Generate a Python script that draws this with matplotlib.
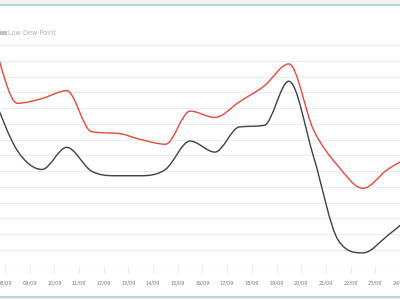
import numpy as np
import matplotlib
matplotlib.use("Agg")
import matplotlib.pyplot as plt
from matplotlib.path import Path
from matplotlib.patches import PathPatch, Rectangle
from matplotlib.lines import Line2D
import matplotlib.transforms as mtransforms

# ---- data ----
dates = ['07/09', '08/09', '09/09', '10/09', '11/09', '12/09', '13/09', '14/09', '15/09',
         '16/09', '17/09', '18/09', '19/09', '20/09', '21/09', '22/09', '23/09', '24/09']
high_dew = [20.3, 16.3, 16.6, 17.1, 14.5, 14.4, 14.0, 13.7, 15.8,
            15.4, 16.4, 17.4, 18.8, 14.6, 12.3, 10.9, 12.1, 13.0]
low_dew = [16.8, 13.3, 12.1, 13.5, 12.0, 11.7, 11.7, 12.1, 13.9,
           13.2, 14.8, 14.9, 17.7, 12.9, 7.6, 6.8, 7.9, 9.2]
tick_labels = ['08/09', '09/09', '10/09', '11/09', '12/09', '13/09', '14/09', '15/09',
               '16/09', '17/09', '18/09', '19/09', '20/09', '21/09', '22/09', '23/09', '24/09']

W, H = 400, 300
fig = plt.figure(figsize=(4, 3), dpi=100)
fig.patch.set_facecolor('#f1f3f3')

# white panel with teal borders
fig.add_artist(Rectangle((0, 3.5 / H), 1, (296.5 - 5.5) / H, transform=fig.transFigure,
                         facecolor='white', edgecolor='none', zorder=0))
for yp in (5.2, 297.0):
    fig.add_artist(Line2D([0, 1], [1 - yp / H, 1 - yp / H], transform=fig.transFigure,
                          color='#a7d6ca', lw=1.2, zorder=1))

ax_bottom_px, ax_top_px = 265.5, 45.0
ax = fig.add_axes([0, (H - ax_bottom_px) / H, 1, (ax_bottom_px - ax_top_px) / H])
ax.set_facecolor('none')
px_x = 24.8
x0_px = 5.0
ax.set_xlim(-x0_px / px_x, (W - x0_px) / px_x)
ax.set_ylim(6, 20)

for s in ax.spines.values():
    s.set_visible(False)
ax.set_yticks(np.arange(6, 21))
ax.yaxis.grid(True, color='#ececec', lw=0.8)
ax.tick_params(axis='y', left=False, labelleft=False)
ax.set_axisbelow(True)

ticks = np.arange(len(tick_labels))
ax.set_xticks(ticks)
ax.set_xticklabels([])
ax.tick_params(axis='x', length=5, width=0.6, color='#e2e2ee', direction='out')
trans = mtransforms.blended_transform_factory(ax.transData, ax.transAxes)
for t, lab in zip(ticks, tick_labels):
    ax.text(t, -17.5 / (ax_bottom_px - ax_top_px), lab, transform=trans, ha='center', va='center',
            fontsize=3.6, color='#777777', clip_on=False)


def monotone_path(xs, ys):
    x = np.asarray(xs, float)
    y = np.asarray(ys, float)
    n = len(x)
    dk = np.diff(y) / np.diff(x)
    mk = np.zeros(n)
    mk[0] = dk[0]
    mk[-1] = dk[-1]
    for i in range(1, n - 1):
        if dk[i - 1] == 0 or dk[i] == 0 or np.sign(dk[i - 1]) != np.sign(dk[i]):
            mk[i] = 0
        else:
            mk[i] = (dk[i - 1] + dk[i]) / 2
    for i in range(n - 1):
        if dk[i] == 0:
            mk[i] = mk[i + 1] = 0
            continue
        a = mk[i] / dk[i]
        b = mk[i + 1] / dk[i]
        sq = a * a + b * b
        if sq > 9:
            tau = 3 / np.sqrt(sq)
            mk[i] = a * tau * dk[i]
            mk[i + 1] = b * tau * dk[i]
    verts = [(x[0], y[0])]
    codes = [Path.MOVETO]
    for i in range(n - 1):
        dx = (x[i + 1] - x[i]) / 3
        verts += [(x[i] + dx, y[i] + mk[i] * dx),
                  (x[i + 1] - dx, y[i + 1] - mk[i + 1] * dx),
                  (x[i + 1], y[i + 1])]
        codes += [Path.CURVE4] * 3
    return Path(verts, codes)


xpos = np.arange(len(dates)) - 0.5
ax.add_patch(PathPatch(monotone_path(xpos, high_dew), fill=False, edgecolor='#e8473a', lw=1.0, zorder=3))
ax.add_patch(PathPatch(monotone_path(xpos, low_dew), fill=False, edgecolor='#404040', lw=1.0, zorder=3))

# legend (partially visible)
fig.add_artist(Rectangle((0, 1 - 35.0 / H), 6.5 / W, 3.5 / H, transform=fig.transFigure,
                         facecolor='#c4c4c4', edgecolor='none'))
fig.text(8.5 / W, 1 - 33.2 / H, 'Low Dew Point', fontsize=4.7, color='#b0b0b0',
         ha='left', va='center')

fig.savefig('out.png', dpi=100, facecolor=fig.get_facecolor())
